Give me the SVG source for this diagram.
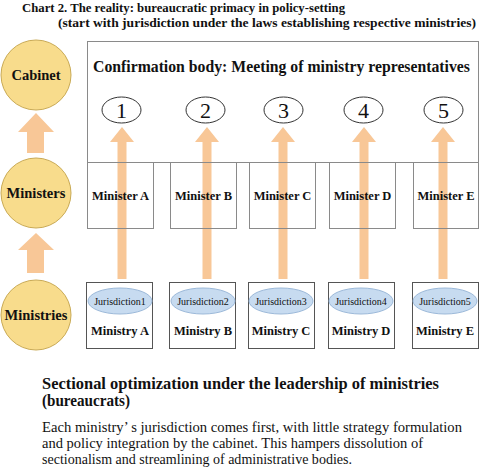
<svg xmlns="http://www.w3.org/2000/svg" width="480" height="473" viewBox="0 0 480 473" font-family="Liberation Serif, Times New Roman, serif">
<style>
text{font-family:'Liberation Serif','Times New Roman',serif;fill:#111}
.t{font-size:13px;font-weight:bold}
.lvl{fill:#f8dc8c;stroke:#c9aa55;stroke-width:1}
.lvlt{font-size:14.5px;font-weight:bold;text-anchor:middle}
.box{fill:none;stroke:#8a8a8a;stroke-width:1}
.mbox{fill:none;stroke:#555;stroke-width:1}
.num{fill:#fff;stroke:#333;stroke-width:1}
.numt{font-size:22px;text-anchor:middle}
.jur{fill:#c7dbf0;stroke:#9cb9d9;stroke-width:1}
.jurt{font-size:10px;text-anchor:middle}
.bt{font-size:12.5px;font-weight:bold;text-anchor:middle}
.arr{fill:#f8c797}
.h{font-size:16px;font-weight:bold}
.h2{font-size:16px;font-weight:bold}
.p{font-size:14px}
</style>
<g id="title">
<text class="t" x="22" y="12" textLength="323" lengthAdjust="spacingAndGlyphs">Chart 2. The reality: bureaucratic primacy in policy-setting</text>
<text class="t" x="58" y="27" textLength="418" lengthAdjust="spacingAndGlyphs">(start with jurisdiction under the laws establishing respective ministries)</text>
</g>
<g id="connectors">
<polygon class="arr" points="27,153 44,153 44,132 54,132 36,113 18,132 27,132"/>
<polygon class="arr" points="27,273 44,273 44,250 54,250 36,233 18,250 27,250"/>
<polygon class="arr" points="117.5,279 126.5,279 126.5,142 134,142 122,127 110,142 117.5,142"/>
<polygon class="arr" points="202.5,279 211.5,279 211.5,142 219,142 207,127 195,142 202.5,142"/>
<polygon class="arr" points="278.5,279 287.5,279 287.5,142 295,142 283,127 271,142 278.5,142"/>
<polygon class="arr" points="359.5,279 368.5,279 368.5,142 376,142 364,127 352,142 359.5,142"/>
<polygon class="arr" points="438.5,279 447.5,279 447.5,142 455,142 443,127 431,142 438.5,142"/>
</g>
<g id="cabinet"><circle class="lvl" cx="36" cy="75" r="35"/><text class="lvlt" x="36" y="80">Cabinet</text></g>
<g id="ministers"><circle class="lvl" cx="36" cy="193" r="35"/><text class="lvlt" x="36" y="198">Ministers</text></g>
<g id="ministries"><circle class="lvl" cx="36" cy="315" r="35"/><text class="lvlt" x="36" y="320">Ministries</text></g>
<g id="confirmation">
<rect class="box" x="87.5" y="41.5" width="391" height="121"/>
<text class="h" x="93" y="72" textLength="377" lengthAdjust="spacingAndGlyphs">Confirmation body: Meeting of ministry representatives</text>
</g>
<g id="n1"><ellipse class="num" cx="121.5" cy="110" rx="19.5" ry="13"/><text class="numt" x="121.5" y="118">1</text></g>
<g id="n2"><ellipse class="num" cx="205.5" cy="110" rx="19.5" ry="13"/><text class="numt" x="205.5" y="118">2</text></g>
<g id="n3"><ellipse class="num" cx="283.5" cy="110" rx="19.5" ry="13"/><text class="numt" x="283.5" y="118">3</text></g>
<g id="n4"><ellipse class="num" cx="363.5" cy="110" rx="19.5" ry="13"/><text class="numt" x="363.5" y="118">4</text></g>
<g id="n5"><ellipse class="num" cx="443.5" cy="110" rx="19.5" ry="13"/><text class="numt" x="443.5" y="118">5</text></g>
<g id="ministerA"><rect class="box" x="87.5" y="162.5" width="66" height="66"/><text class="bt" x="120.5" y="200">Minister A</text></g>
<g id="ministerB"><rect class="box" x="170.5" y="162.5" width="66" height="66"/><text class="bt" x="203.5" y="200">Minister B</text></g>
<g id="ministerC"><rect class="box" x="249.5" y="162.5" width="66" height="66"/><text class="bt" x="282.5" y="200">Minister C</text></g>
<g id="ministerD"><rect class="box" x="329.5" y="162.5" width="66" height="66"/><text class="bt" x="362.5" y="200">Minister D</text></g>
<g id="ministerE"><rect class="box" x="413.5" y="162.5" width="65" height="66"/><text class="bt" x="446" y="200">Minister E</text></g>
<g id="ministryA"><rect class="mbox" x="86.5" y="282.5" width="66" height="66"/><ellipse class="jur" cx="120" cy="301" rx="32" ry="13"/><text class="jurt" x="120" y="305">Jurisdiction1</text><text class="bt" x="120" y="335">Ministry A</text></g>
<g id="ministryB"><rect class="mbox" x="169.5" y="282.5" width="66" height="66"/><ellipse class="jur" cx="203" cy="301" rx="32" ry="13"/><text class="jurt" x="203" y="305">Jurisdiction2</text><text class="bt" x="203" y="335">Ministry B</text></g>
<g id="ministryC"><rect class="mbox" x="248.5" y="282.5" width="66" height="66"/><ellipse class="jur" cx="281" cy="301" rx="32" ry="13"/><text class="jurt" x="281" y="305">Jurisdiction3</text><text class="bt" x="281" y="335">Ministry C</text></g>
<g id="ministryD"><rect class="mbox" x="328.5" y="282.5" width="66" height="66"/><ellipse class="jur" cx="361" cy="301" rx="32" ry="13"/><text class="jurt" x="361" y="305">Jurisdiction4</text><text class="bt" x="361" y="335">Ministry D</text></g>
<g id="ministryE"><rect class="mbox" x="412.5" y="282.5" width="66" height="66"/><ellipse class="jur" cx="445" cy="301" rx="32" ry="13"/><text class="jurt" x="445" y="305">Jurisdiction5</text><text class="bt" x="445" y="335">Ministry E</text></g>
<g id="summary">
<text class="h2" x="42" y="389" textLength="397" lengthAdjust="spacingAndGlyphs">Sectional optimization under the leadership of ministries</text>
<text class="h2" x="42" y="406" textLength="88" lengthAdjust="spacingAndGlyphs">(bureaucrats)</text>
<text class="p" x="42" y="432" textLength="420" lengthAdjust="spacingAndGlyphs">Each ministry’ s jurisdiction comes first, with little strategy formulation</text>
<text class="p" x="42" y="448" textLength="381" lengthAdjust="spacingAndGlyphs">and policy integration by the cabinet. This hampers dissolution of</text>
<text class="p" x="42" y="464" textLength="310" lengthAdjust="spacingAndGlyphs">sectionalism and streamlining of administrative bodies.</text>
</g>
</svg>
